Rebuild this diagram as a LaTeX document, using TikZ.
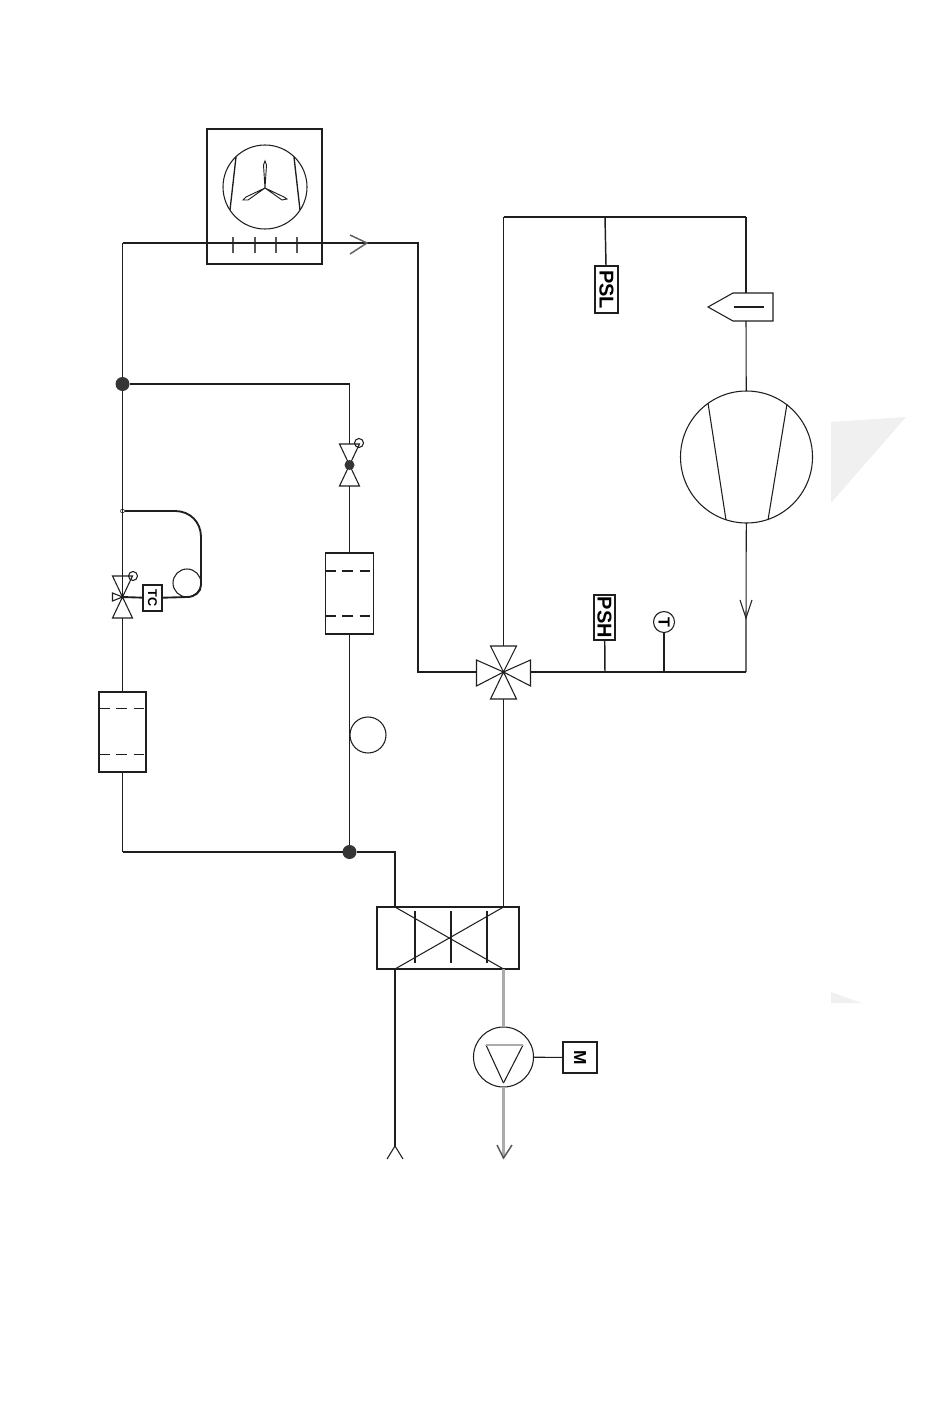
\documentclass[tikz,border=0pt]{standalone}
\usepackage{fontspec}
\setmainfont{Liberation Sans}
\usepackage{tikz}
\usetikzlibrary{positioning}
\definecolor{ink}{HTML}{1E1E1E}
\definecolor{water}{HTML}{ABABAB}
\definecolor{ghost}{HTML}{F0F0F0}
\def\px{0.75pt}
\tikzset{
  pipe/.style={draw=ink, line width=1.4pt},
  thinpipe/.style={draw=ink, line width=0.8pt},
  waterpipe/.style={draw=water, line width=2.4pt},
  sym/.style={draw=ink, line width=0.8pt},
  vessel/.style={sym, rectangle, inner sep=0pt, outer sep=0pt},
  round/.style={sym, circle, inner sep=0pt, outer sep=0pt},
  junction/.style={circle, fill=ink!90, inner sep=0pt, outer sep=0pt, minimum size=14*\px},
  instr/.style={vessel, rotate=-90, font=\bfseries, line width=1pt},
  baffle/.style={sym, dash pattern=on 8pt off 5pt}
}
\begin{document}
\begin{tikzpicture}[x=\px, y=-\px]
    \useasboundingbox (0,0) rectangle (950,1420);
    \fill[ghost] (831,422) -- (906,417) -- (831,503) -- cycle;
    \fill[ghost] (831,992) -- (862,1003) -- (831,1003) -- cycle;

    % fan coil
    \node[vessel, minimum width=115*\px, minimum height=135*\px] (coil) at (264.5,196.5) {};
    \node[round, minimum size=84*\px] (fan) at (265,187) {};
    \draw[sym, line width=1pt] (236,157) -- (230,210) (294,157) -- (300,210);
    \draw[sym, line width=0.7pt] (265,188) -- (263.5,165) -- (265,161) -- (266.5,165) -- (265,188)
        -- (246,197) -- (243,200) -- (248,200) -- (265,188)
        -- (284,197) -- (287,199) -- (282,200) -- (265,188);
    \foreach \tx in {233,255,276,297} \draw[sym, draw=ink!75, line width=1pt] (\tx,237) -- (\tx,253);

    % corners and tees
    \coordinate (topL) at (122.5,243);
    \coordinate (topR) at (418,243);
    \coordinate (tipF) at (367,243);
    \node[junction] (jtop) at (122.5,384) {};
    \coordinate (jtopR) at (349.5,384);
    \node[circle, draw=ink, fill=white, inner sep=0pt, minimum size=4*\px] (jsmall) at (122.5,511) {};
    \node[junction] (jlow) at (349.5,852) {};
    \coordinate (lowL) at (122.5,852);
    \coordinate (lowR) at (395,852);

    % valves
    \coordinate (tcv) at (122.5,597);
    \coordinate (hgv) at (349.5,465);
    \coordinate (rev) at (503.5,672);
    \draw[sym] (tcv) -- ++(-10,-21) -- ++(20,0) -- cycle;
    \draw[sym] (tcv) -- ++(-10,21) -- ++(20,0) -- cycle;
    \draw[sym] (tcv) -- ++(-10,-4) -- ++(0,8) -- cycle;
    \node[round, minimum size=9*\px] (tcb) at (133,576) {};
    \draw[sym] (hgv) -- ++(-10,-21) -- ++(20,0) -- cycle;
    \draw[sym] (hgv) -- ++(-10,21) -- ++(20,0) -- cycle;
    \node[round, minimum size=9*\px] (hgb) at (359,443) {};
    \node[circle, fill=ink!90, inner sep=0pt, minimum size=10*\px] (hgd) at (hgv) {};
    \draw[sym] (rev) -- ++(-13,-26) -- ++(26,0) -- cycle;
    \draw[sym] (rev) -- ++(-13,27) -- ++(26,0) -- cycle;
    \draw[sym] (rev) -- ++(-27,-12) -- ++(0,26) -- cycle;
    \draw[sym] (rev) -- ++(27,-12) -- ++(0,26) -- cycle;

    % tanks
    \node[vessel, minimum width=47*\px, minimum height=80*\px] (drierL) at (122.5,732) {};
    \draw[baffle, line width=0.5pt] (99,708) -- (146,708) (99,754) -- (146,754);
    \node[vessel, minimum width=48*\px, minimum height=81*\px] (drierM) at (349.5,593.5) {};
    \draw[baffle] (325,571) -- (373,571) (325,616) -- (373,616);
    \node[round, minimum size=36*\px] (bulbM) at (368,735) {};

    % bulb and controller
    \node[round, minimum size=28*\px] (bulbT) at (187,583) {};
    \node[instr, minimum width=26*\px, minimum height=19*\px, font=\bfseries\fontsize{9.5}{10}\selectfont] (tc) at (152.5,598) {TC};

    % instruments and compressor
    \node[instr, minimum width=47*\px, minimum height=23*\px, font=\bfseries\fontsize{15}{16}\selectfont] (psl) at (606.5,289.5) {PSL};
    \node[instr, minimum width=45*\px, minimum height=21*\px, font=\bfseries\fontsize{15}{16}\selectfont] (psh) at (604.5,617.5) {PSH};
    \node[round, rotate=-90, minimum size=21*\px, font=\bfseries\fontsize{12}{12}\selectfont] (temp) at (664,622) {T};
    \node[round, minimum size=132*\px] (comp) at (746.5,457) {};
    \draw[sym] (708,403) -- (726,520) (787,404) -- (768,520);
    \draw[sym] (733,293) -- (773,293) -- (773,321) -- (733,321) -- (708,307) -- cycle;
    \draw[sym] (734,307) -- (764,307);
    \coordinate (sepT) at (746,293);
    \coordinate (sepB) at (746,321);
    \coordinate (topA) at (503.5,217);
    \coordinate (topB) at (746,217);
    \coordinate (pslT) at (605,217);
    \coordinate (botA) at (531,672);
    \coordinate (botB) at (746,672);
    \coordinate (pshB) at (605,672);
    \coordinate (tempB) at (664,672);
    \coordinate (tipC) at (746,618);

    % heat exchanger
    \node[vessel, minimum width=142*\px, minimum height=62*\px] (hx) at (448,938) {};
    \coordinate (hxA) at (395,907);
    \coordinate (hxB) at (503.5,907);
    \coordinate (hxC) at (395,969);
    \coordinate (hxD) at (503.5,969);
    \draw[sym] (hxA) -- (hxD) (hxC) -- (hxB);
    \foreach \tx in {415,451,487} \draw[pipe, line width=1.2pt] (\tx,911) -- (\tx,963);

    % pump and motor
    \node[round, minimum size=60*\px] (pump) at (503.5,1057) {};
    \draw[sym] (503.5,1083) -- (486,1045);
    \draw[sym] (503.5,1083) -- (523,1045);
    \draw[waterpipe, line width=1.4pt] (486,1045) -- (523,1045);
    \node[instr, minimum width=31*\px, minimum height=34*\px, font=\bfseries\fontsize{13}{13}\selectfont] (motor) at (580,1057.5) {M};
    \coordinate (outA) at (395,1146);
    \coordinate (outB) at (503.5,1158);

    % refrigerant lines
    \draw[thinpipe] (topL) -- (jtop) -- (tcv);
    \draw[pipe] (topL) -- (tipF) -- (topR) -- (418,672) -- (477,672);
    \draw[sym, draw=ink!70, line width=1.1pt] (350,235) -- (tipF) -- (350,254);
    \draw[pipe] (jtop) -- (jtopR);
    \draw[thinpipe] (jtopR) -- (349.5,444);
    \draw[thinpipe] (349.5,486) -- (drierM);
    \draw[thinpipe] (drierM) -- (jlow);
    \draw[thinpipe] (122.5,618) -- (drierL);
    \draw[thinpipe] (drierL) -- (lowL);
    \draw[pipe] (lowL) -- (jlow) -- (lowR) -- (hxA);
    \draw[pipe] (jsmall) -- (175,511) .. controls (190,511) and (201,522) .. (201,537) -- (201,585) .. controls (201,592) and (195,597) .. (187,597) -- (tc);
    \draw[pipe] (tc) -- (tcv);
    \draw[thinpipe] (503.5,646) -- (topA);
    \draw[pipe] (topA) -- (pslT) -- (topB);
    \draw[thinpipe] (topB) -- (sepT);
    \draw[pipe, line width=1.1pt] (pslT) -- (psl);
    \draw[thinpipe] (sepB) -- (comp);
    \draw[thinpipe] (comp) -- (tipC) -- (botB);
    \draw[thinpipe] (740,600) -- (tipC) -- (752,600);
    \draw[pipe] (botB) -- (tempB) -- (pshB) -- (botA);
    \draw[pipe, line width=1.1pt] (pshB) -- (psh);
    \draw[thinpipe] (tempB) -- (temp);
    \draw[thinpipe] (503.5,699) -- (hxB);
    \draw[pipe] (hxC) -- (outA);
    \draw[thinpipe] (387,1159) -- (outA) -- (403,1159);
    \draw[waterpipe] (hxD) -- (pump);
    \draw[waterpipe] (pump) -- (outB);
    \draw[sym, draw=ink!60!water, line width=1.1pt] (497,1145) -- (outB) -- (512,1145);
    \draw[thinpipe] (pump) -- (motor);
\end{tikzpicture}
\end{document}
